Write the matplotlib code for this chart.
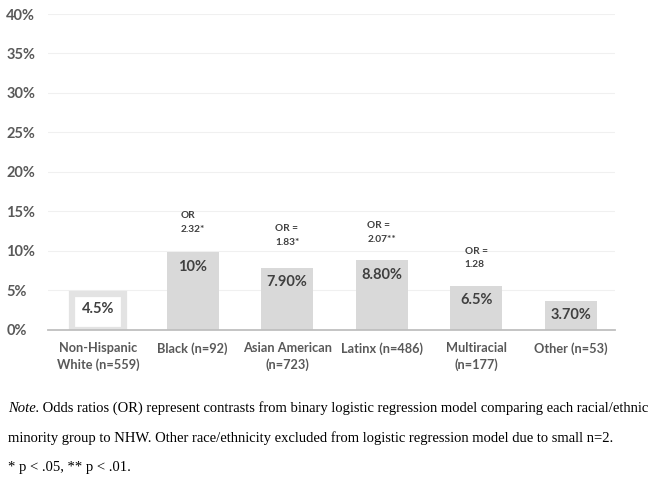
import matplotlib.pyplot as plt

# data
groups = ["Non-Hispanic\nWhite (n=559)", "Black (n=92)", "Asian American\n(n=723)",
          "Latinx (n=486)", "Multiracial\n(n=177)", "Other (n=53)"]
bar_heights = [4.5, 9.8, 7.9, 8.8, 5.6, 3.7]
value_labels = ["4.5%", "10%", "7.90%", "8.80%", "6.5%", "3.70%"]
or_labels = ["", "OR\n2.32*", "OR =\n1.83*", "OR =\n2.07**", "OR =\n1.28", ""]
or_offsets = [0, 2.4, 2.6, 2.1, 2.1, 0]
yticks = [0, 5, 10, 15, 20, 25, 30, 35, 40]

note_lines = [
    " Odds ratios (OR) represent contrasts from binary logistic regression model comparing each racial/ethnic",
    "minority group to NHW. Other race/ethnicity excluded from logistic regression model due to small n=2.",
    "* p < .05, ** p < .01.",
]

sans = ["Lato", "DejaVu Sans"]
grey = "#595959"
dark = "#404040"

fig = plt.figure(figsize=(6.49, 4.83), dpi=100)
ax = fig.add_axes([0.074, 0.317, 0.874, 0.654])

x = list(range(len(groups)))
bars = ax.bar(x, bar_heights, width=0.55, color="#d9d9d9", zorder=2)
# first bar is drawn as an outlined white box
bars[0].set_facecolor("white")
bars[0].set_edgecolor("#e3e3e3")
bars[0].set_linewidth(4.5)

for i, h in enumerate(bar_heights):
    ax.text(i, h - 0.95, value_labels[i], ha="center", va="top", fontsize=10.5,
            fontweight="bold", color=dark, family=sans, zorder=3)
    if or_labels[i]:
        ax.text(i, h + or_offsets[i], or_labels[i], ha="center", va="bottom",
                multialignment="left", fontsize=7.3, fontweight="bold",
                color=dark, family=sans, linespacing=1.65)

ax.set_xlim(-0.53, 5.47)
ax.set_ylim(0, 40)
ax.set_yticks(yticks)
ax.set_yticklabels([f"{t}%" for t in yticks])
ax.set_xticks(x)
ax.set_xticklabels(groups)
for lab in ax.get_yticklabels():
    lab.set_fontsize(10.5)
    lab.set_fontweight("bold")
    lab.set_color(grey)
    lab.set_family(sans)
    lab.set_horizontalalignment("left")
for lab in ax.get_xticklabels():
    lab.set_fontsize(9.2)
    lab.set_fontweight("bold")
    lab.set_color(grey)
    lab.set_family(sans)
    lab.set_linespacing(1.35)
ax.tick_params(axis="y", length=0, pad=30)
ax.tick_params(axis="x", length=0, pad=9)

ax.grid(axis="y", color="#f0f0f0", linewidth=0.8, zorder=0)
for side in ["top", "right", "left"]:
    ax.spines[side].set_visible(False)
ax.spines["bottom"].set_color("#bfbfbf")
ax.spines["bottom"].set_linewidth(1.3)

# note under the chart
serif = "Liberation Serif"
fs = 10.5
note = fig.text(0.012, 1 - 408 / 483, "Note.", fontsize=fs, style="italic",
                family=serif, va="center")
fig.canvas.draw()
bb = note.get_window_extent()
fig.text(bb.x1 / fig.bbox.width, 1 - 408 / 483, note_lines[0], fontsize=fs,
         family=serif, va="center")
fig.text(0.012, 1 - 438 / 483, note_lines[1], fontsize=fs, family=serif, va="center")
fig.text(0.012, 1 - 467 / 483, note_lines[2], fontsize=fs, family=serif, va="center")

fig.savefig("out.png", dpi=100)
